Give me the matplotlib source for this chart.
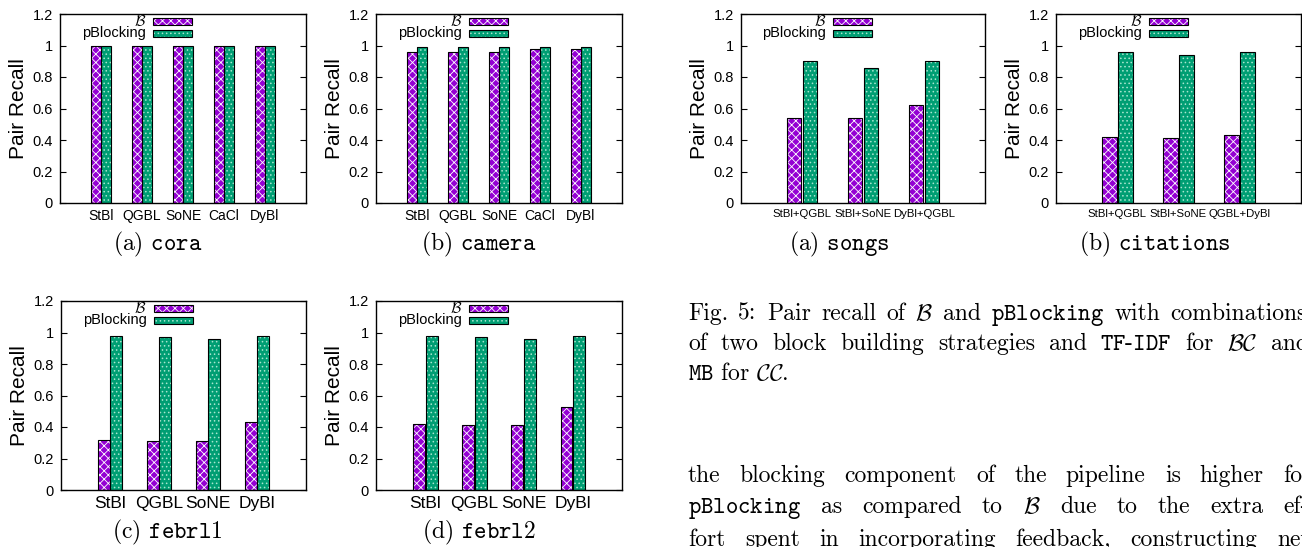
import matplotlib
matplotlib.use("Agg")
import matplotlib.pyplot as plt
from matplotlib.patches import Rectangle
from matplotlib.ticker import FormatStrFormatter, FixedLocator
import numpy as np

plt.rcParams['font.family'] = ['Liberation Sans', 'DejaVu Sans']
plt.rcParams['mathtext.fontset'] = 'cm'
plt.rcParams['hatch.linewidth'] = 0.6

# ---------------- data ----------------
cats5 = ["StBl", "QGBL", "SoNE", "CaCl", "DyBl"]
cats4 = ["StBl", "QGBL", "SoNE", "DyBl"]
cats_songs = ["StBl+QGBL", "StBl+SoNE", "DyBl+QGBL"]
cats_cit = ["StBl+QGBL", "StBl+SoNE", "QGBL+DyBl"]

cora_B = [1.0, 1.0, 1.0, 1.0, 1.0]
cora_P = [1.0, 1.0, 1.0, 1.0, 1.0]
camera_B = [0.96, 0.96, 0.96, 0.98, 0.98]
camera_P = [0.99, 0.99, 0.99, 0.99, 0.99]
febrl1_B = [0.32, 0.31, 0.31, 0.43]
febrl1_P = [0.98, 0.97, 0.96, 0.98]
febrl2_B = [0.42, 0.41, 0.41, 0.53]
febrl2_P = [0.98, 0.97, 0.96, 0.98]
songs_B = [0.54, 0.54, 0.62]
songs_P = [0.90, 0.86, 0.90]
cit_B = [0.42, 0.41, 0.43]
cit_P = [0.96, 0.94, 0.96]

yticks = [0, 0.2, 0.4, 0.6, 0.8, 1.0, 1.2]

PURPLE = '#9400D3'
GREEN = '#009E73'
P_HATCH = 'xxxx'
G_HATCH = '....'
G_DOT = '#A8E6CF'

W, H = 1302, 547
fig = plt.figure(figsize=(W / 100, H / 100), dpi=100)
renderer = fig.canvas.get_renderer()


def ax_at(l, t, r, b):
    return fig.add_axes([l / W, 1 - b / H, (r - l) / W, (b - t) / H])


def draw_bars(ax, x, vals, color, hatch, hcolor, off, width):
    ax.bar(x + off, vals, width, color=color, hatch=hatch, edgecolor=hcolor,
           linewidth=0, zorder=2)
    ax.bar(x + off, vals, width, fill=False, edgecolor='black',
           linewidth=0.8, zorder=3)


def legend_box(ax, y, color, hatch, hcolor):
    r = Rectangle((0.378, y - 0.0185), 0.159, 0.037, transform=ax.transAxes,
                  facecolor=color, hatch=hatch, edgecolor=hcolor, linewidth=0,
                  zorder=4)
    ax.add_patch(r)
    r2 = Rectangle((0.378, y - 0.0185), 0.159, 0.037, transform=ax.transAxes,
                   fill=False, edgecolor='black', linewidth=0.8, zorder=5)
    ax.add_patch(r2)


def panel(ax, cats, bvals, pvals, xfs):
    x = np.arange(len(cats))
    width = 0.24
    draw_bars(ax, x, bvals, PURPLE, P_HATCH, 'white', -0.13, width)
    draw_bars(ax, x, pvals, GREEN, G_HATCH, G_DOT, 0.13, width)
    ax.set_xlim(-1, len(cats))
    ax.set_ylim(0, 1.2)
    ax.yaxis.set_major_locator(FixedLocator(yticks))
    ax.yaxis.set_major_formatter(FormatStrFormatter('%g'))
    ax.set_xticks(x)
    ax.set_xticklabels(cats, fontsize=xfs)
    ax.tick_params(axis='x', length=0, pad=4)
    ax.tick_params(axis='y', direction='in', length=4, width=0.8,
                   right=True, labelsize=10.5, pad=5)
    for s in ax.spines.values():
        s.set_linewidth(1.0)
    ax.text(-0.17, 0.5, 'Pair Recall', rotation=90, ha='center', va='center',
            fontsize=15, transform=ax.transAxes)
    ax.text(0.35, 0.960, r'$\mathcal{B}$', ha='right', va='center',
            fontsize=11, transform=ax.transAxes)
    ax.text(0.35, 0.897, 'pBlocking', ha='right', va='center',
            fontsize=10.5, transform=ax.transAxes)
    legend_box(ax, 0.960, PURPLE, P_HATCH, 'white')
    legend_box(ax, 0.897, GREEN, G_HATCH, G_DOT)


ax1 = ax_at(60, 14, 306, 203)
panel(ax1, cats5, cora_B, cora_P, 10)
ax2 = ax_at(376, 14, 622, 203)
panel(ax2, cats5, camera_B, camera_P, 10)
ax3 = ax_at(741, 14, 985, 203)
panel(ax3, cats_songs, songs_B, songs_P, 8.2)
ax4 = ax_at(1056, 14, 1301, 203)
panel(ax4, cats_cit, cit_B, cit_P, 8.2)
ax5 = ax_at(61, 301, 306, 490)
panel(ax5, cats4, febrl1_B, febrl1_P, 12.5)
ax6 = ax_at(376, 301, 622, 490)
panel(ax6, cats4, febrl2_B, febrl2_P, 12.5)

FS = 17
SFS = 17


def ftext(xp, yp, s, ha='left', fs=FS):
    return fig.text(xp / W, 1 - yp / H, s, fontsize=fs, family='cmr10',
                    ha=ha, va='baseline')


def justify(words, x0, xlast, yb):
    """Place words so that first starts at x0 and the last starts at xlast."""
    widths = []
    for w in words[:-1]:
        t = ftext(0, yb, w)
        widths.append(t.get_window_extent(renderer).width)
        t.remove()
    gap = (xlast - x0 - sum(widths)) / (len(words) - 1)
    xp = x0
    for w, wd in zip(words[:-1], widths):
        ftext(xp, yb, w)
        xp += wd + gap
    ftext(xlast, yb, words[-1])


# sub-captions
ftext(158, 250, r'(a) $\mathtt{cora}$', 'center', SFS)
ftext(479, 250, r'(b) $\mathtt{camera}$', 'center', SFS)
ftext(839, 250, r'(a) $\mathtt{songs}$', 'center', SFS)
ftext(1155, 250, r'(b) $\mathtt{citations}$', 'center', SFS)
ftext(167, 538, r'(c) $\mathtt{febrl1}$', 'center', SFS)
ftext(479, 538, r'(d) $\mathtt{febrl2}$', 'center', SFS)

# figure caption
cap1 = ['Fig.', '5:', 'Pair', 'recall', 'of', r'$\mathcal{B}$', 'and',
        r'$\mathtt{pBlocking}$', 'with', 'combinations']
cap2 = ['of', 'two', 'block', 'building', 'strategies', 'and',
        r'$\mathtt{TF}$-$\mathtt{IDF}$', 'for', r'$\mathcal{BC}$', 'and']
justify(cap1, 688, 1170, 320)
justify(cap2, 688, 1271, 350)
ftext(688, 380, r'$\mathtt{MB}$ for $\mathcal{CC}$.')

# body paragraph (justified)
body1 = ['the', 'blocking', 'component', 'of', 'the', 'pipeline', 'is',
         'higher', 'for']
body2 = [r'$\mathtt{pBlocking}$', 'as', 'compared', 'to', r'$\mathcal{B}$',
         'due', 'to', 'the', 'extra', 'ef-']
body3 = ['fort', 'spent', 'in', 'incorporating', 'feedback,', 'constructing',
         'new']
justify(body1, 688, 1283, 482)
justify(body2, 688, 1283, 513)
justify(body3, 688, 1277, 546)

fig.savefig('out.png', dpi=100)
